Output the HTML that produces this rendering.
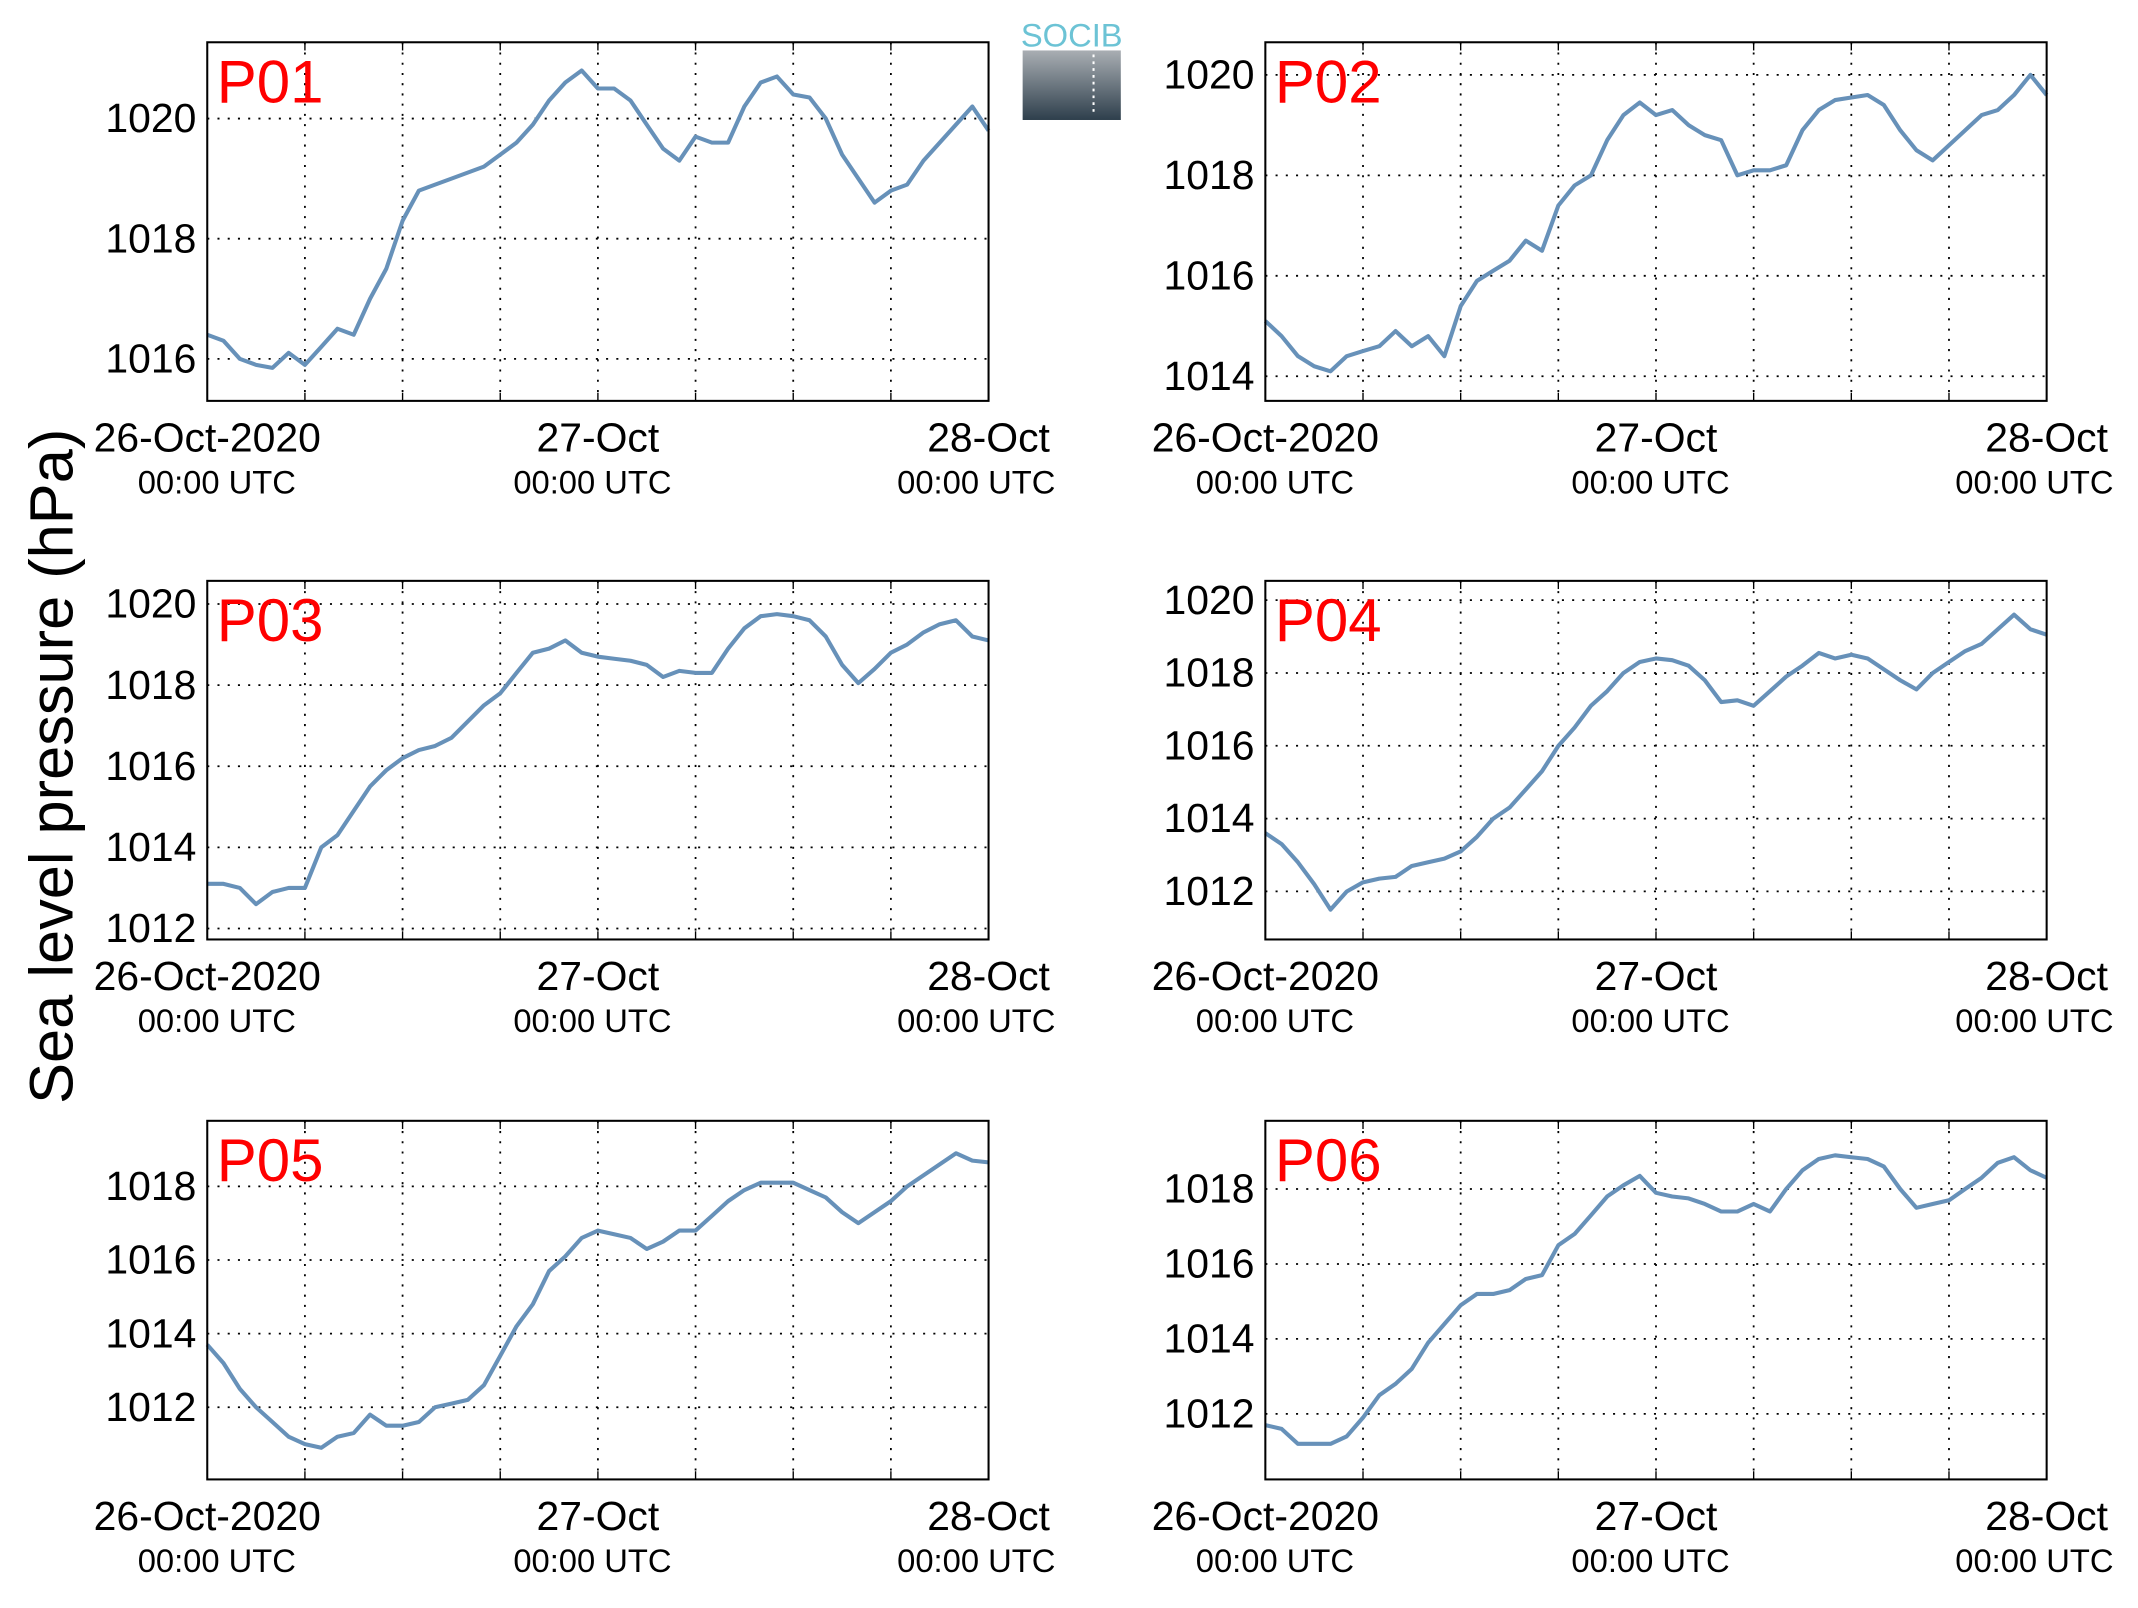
<!DOCTYPE html>
<html><head><meta charset="utf-8"><style>
html,body{margin:0;padding:0;background:#fff;}
svg{display:block;font-family:"Liberation Sans",sans-serif;}
</style></head><body>
<svg id="chart" width="2138" height="1608" viewBox="0 0 1568 1179.3" xmlns="http://www.w3.org/2000/svg">
<defs><linearGradient id="lg" x1="0" y1="0" x2="0" y2="1"><stop offset="0" stop-color="#a9aeb3"/><stop offset="1" stop-color="#2e3f4c"/></linearGradient></defs>
<g>
<text x="786" y="34" text-anchor="middle" font-size="24" fill="#6cc3d5">SOCIB</text>
<rect x="750" y="37" width="72" height="51" fill="url(#lg)"/>
<line x1="802" y1="40" x2="802" y2="84" stroke="#fff" stroke-width="1.5" stroke-dasharray="2,3"/>
</g>
<text transform="translate(53,562) rotate(-90)" text-anchor="middle" font-size="45" fill="#000">Sea level pressure (hPa)</text>
<g id="panels"></g>
</svg>
<script>
const hours=[0,1,2,3,4,5,6,7,8,9,10,11,12,13,14,15,16,17,18,19,20,21,22,23,24,25,26,27,28,29,30,31,32,33,34,35,36,37,38,39,40,41,42,43,44,45,46,47,48];
const xTickLabels=["26-Oct-2020","27-Oct","28-Oct"];
const xSubLabel="00:00 UTC";
const p01=[1016.4,1016.3,1016.0,1015.9,1015.85,1016.1,1015.9,1016.2,1016.5,1016.4,1017.0,1017.5,1018.3,1018.8,1018.9,1019.0,1019.1,1019.2,1019.4,1019.6,1019.9,1020.3,1020.6,1020.8,1020.5,1020.5,1020.3,1019.9,1019.5,1019.3,1019.7,1019.6,1019.6,1020.2,1020.6,1020.7,1020.4,1020.35,1020.0,1019.4,1019.0,1018.6,1018.8,1018.9,1019.3,1019.6,1019.9,1020.2,1019.8];
const p02=[1015.1,1014.8,1014.4,1014.2,1014.1,1014.4,1014.5,1014.6,1014.9,1014.6,1014.8,1014.4,1015.4,1015.9,1016.1,1016.3,1016.7,1016.5,1017.4,1017.8,1018.0,1018.7,1019.2,1019.45,1019.2,1019.3,1019.0,1018.8,1018.7,1018.0,1018.1,1018.1,1018.2,1018.9,1019.3,1019.5,1019.55,1019.6,1019.4,1018.9,1018.5,1018.3,1018.6,1018.9,1019.2,1019.3,1019.6,1020.0,1019.6];
const p03=[1013.1,1013.1,1013.0,1012.6,1012.9,1013.0,1013.0,1014.0,1014.3,1014.9,1015.5,1015.9,1016.2,1016.4,1016.5,1016.7,1017.1,1017.5,1017.8,1018.3,1018.8,1018.9,1019.1,1018.8,1018.7,1018.65,1018.6,1018.5,1018.2,1018.35,1018.3,1018.3,1018.9,1019.4,1019.7,1019.75,1019.7,1019.6,1019.2,1018.5,1018.05,1018.4,1018.8,1019.0,1019.3,1019.5,1019.6,1019.2,1019.1];
const p04=[1013.6,1013.3,1012.8,1012.2,1011.5,1012.0,1012.25,1012.35,1012.4,1012.7,1012.8,1012.9,1013.1,1013.5,1014.0,1014.3,1014.8,1015.3,1016.0,1016.5,1017.1,1017.5,1018.0,1018.3,1018.4,1018.35,1018.2,1017.8,1017.2,1017.25,1017.1,1017.5,1017.9,1018.2,1018.55,1018.4,1018.5,1018.4,1018.1,1017.8,1017.55,1018.0,1018.3,1018.6,1018.8,1019.2,1019.6,1019.2,1019.05];
const p05=[1013.7,1013.2,1012.5,1012.0,1011.6,1011.2,1011.0,1010.9,1011.2,1011.3,1011.8,1011.5,1011.5,1011.6,1012.0,1012.1,1012.2,1012.6,1013.4,1014.2,1014.8,1015.7,1016.1,1016.6,1016.8,1016.7,1016.6,1016.3,1016.5,1016.8,1016.8,1017.2,1017.6,1017.9,1018.1,1018.1,1018.1,1017.9,1017.7,1017.3,1017.0,1017.3,1017.6,1018.0,1018.3,1018.6,1018.9,1018.7,1018.65];
const p06=[1011.7,1011.6,1011.2,1011.2,1011.2,1011.4,1011.9,1012.5,1012.8,1013.2,1013.9,1014.4,1014.9,1015.2,1015.2,1015.3,1015.6,1015.7,1016.5,1016.8,1017.3,1017.8,1018.1,1018.35,1017.9,1017.8,1017.75,1017.6,1017.4,1017.4,1017.6,1017.4,1018.0,1018.5,1018.8,1018.9,1018.85,1018.8,1018.6,1018.0,1017.5,1017.6,1017.7,1018.0,1018.3,1018.7,1018.85,1018.5,1018.3];
const names=["P01","P02","P03","P04","P05","P06"];
const series=[p01,p02,p03,p04,p05,p06];
const yTicks=[[1016,1018,1020],[1014,1016,1018,1020],[1012,1014,1016,1018,1020],[1012,1014,1016,1018,1020],[1012,1014,1016,1018],[1012,1014,1016,1018]];
const yDomains=[[1015.3,1021.27],[1013.51,1020.65],[1011.73,1020.57],[1010.68,1020.53],[1010.04,1019.78],[1010.25,1019.82]];
const boxes=[[152,31],[928,31],[152,426],[928,426],[152,822],[928,822]];
const W=573,H=263,NS="http://www.w3.org/2000/svg";
const root=document.getElementById('panels');
function mk(t,a,p){const e=document.createElementNS(NS,t);for(const k in a)e.setAttribute(k,a[k]);p.appendChild(e);return e;}
series.forEach((s,i)=>{
  const [x0,y0]=boxes[i],[d0,d1]=yDomains[i];
  const X=h=>x0+h/48*W, Y=v=>y0+H-(v-d0)/(d1-d0)*H;
  const g=mk('g',{},root);
  
  
  for(let k=1;k<8;k++){const l=mk('line',{x1:X(k*6),x2:X(k*6),y1:y0,y2:y0+H,stroke:'#000','stroke-width':1.3,'stroke-dasharray':'1.5,6'},g);
    
    mk('line',{x1:X(k*6),x2:X(k*6),y1:y0+H,y2:y0+H-6,stroke:'#000','stroke-width':1},g);mk('line',{x1:X(k*6),x2:X(k*6),y1:y0,y2:y0+6,stroke:'#000','stroke-width':1},g);}
  yTicks[i].forEach(v=>{const l=mk('line',{x1:x0,x2:x0+W,y1:Y(v),y2:Y(v),stroke:'#000','stroke-width':1.3,'stroke-dasharray':'1.5,6'},g);
    
    const t=mk('text',{x:x0-8,y:Y(v)+10,'text-anchor':'end','font-size':30},g);t.textContent=v;
    });
  const pts=s.map((v,j)=>X(hours[j]).toFixed(1)+','+Y(v).toFixed(1)).join(' ');
  const pl=mk('polyline',{points:pts,fill:'none',stroke:'#6791b9','stroke-width':3,'stroke-linejoin':'round'},g);
  
  const b=mk('rect',{x:x0,y:y0,width:W,height:H,fill:'none',stroke:'#000','stroke-width':1.5},g);
  
  const lb=mk('text',{x:x0+7,y:y0+44,'font-size':44,fill:'#ff0000'},g);lb.textContent=names[i];
  
  [0,24,48].forEach((h,k)=>{const t=mk('text',{x:X(h),y:y0+H+37,'text-anchor':'middle','font-size':30},g);t.textContent=xTickLabels[k];
    
    const u=mk('text',{x:X(h)+(k==0?7:k==1?-4:-9),y:y0+H+68,'text-anchor':'middle','font-size':24},g);u.textContent=xSubLabel;
    });
});
</script>
</body></html>
